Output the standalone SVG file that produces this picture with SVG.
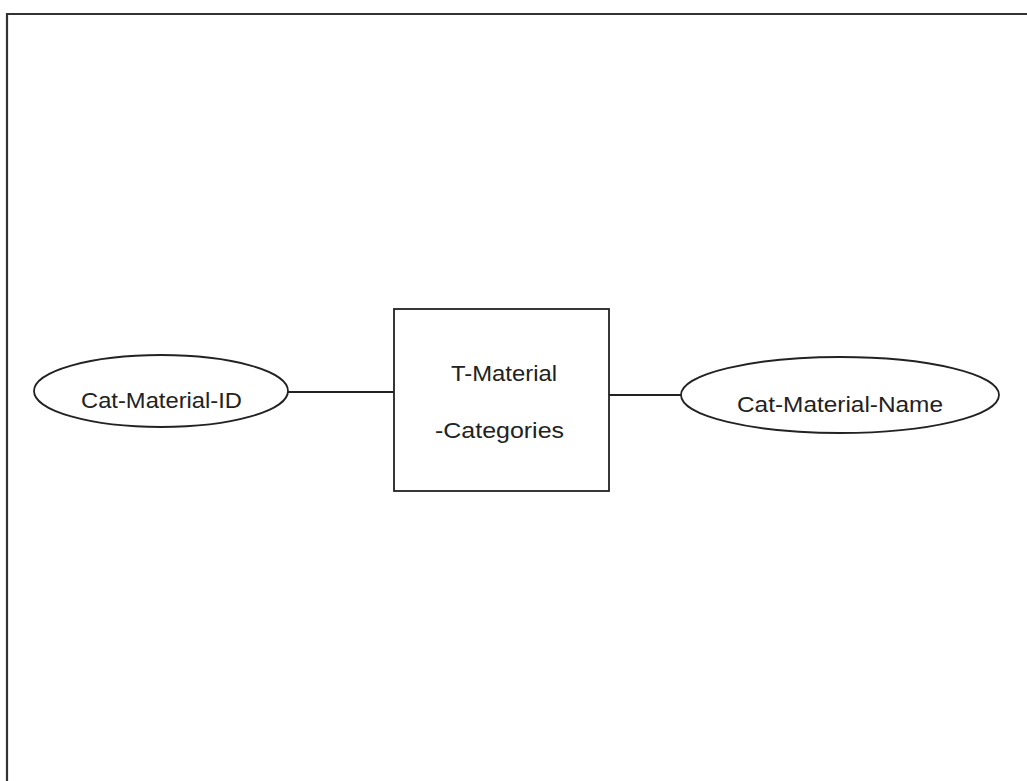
<svg xmlns="http://www.w3.org/2000/svg" width="1027" height="781" viewBox="0 0 1027 781">
<style>
.shape{fill:#fff;stroke:#222;stroke-width:1.8}
.conn{stroke:#222;stroke-width:1.8;fill:none}
.lbl{font-family:"Liberation Sans",Arial,sans-serif;font-size:22px;fill:#222}
</style>
<rect width="1027" height="781" fill="#fff"/>
<path d="M7,781 V14 H1027" fill="none" stroke="#333" stroke-width="2.2"/>
<g id="connectors">
<line class="conn" x1="288" y1="392" x2="394" y2="392"/>
<line class="conn" x1="609" y1="395" x2="681" y2="395"/>
</g>
<g id="cat-material-id">
<ellipse class="shape" cx="161" cy="391" rx="127" ry="36"/>
<text class="lbl" x="81" y="408" textLength="161" lengthAdjust="spacingAndGlyphs">Cat-Material-ID</text>
</g>
<g id="t-material-categories">
<rect class="shape" x="394" y="309" width="215" height="182"/>
<text class="lbl" x="451" y="381" textLength="106" lengthAdjust="spacingAndGlyphs">T-Material</text>
<text class="lbl" x="435" y="438" textLength="129" lengthAdjust="spacingAndGlyphs">-Categories</text>
</g>
<g id="cat-material-name">
<ellipse class="shape" cx="840" cy="395" rx="159" ry="38"/>
<text class="lbl" x="737" y="412" textLength="206" lengthAdjust="spacingAndGlyphs">Cat-Material-Name</text>
</g>
</svg>
